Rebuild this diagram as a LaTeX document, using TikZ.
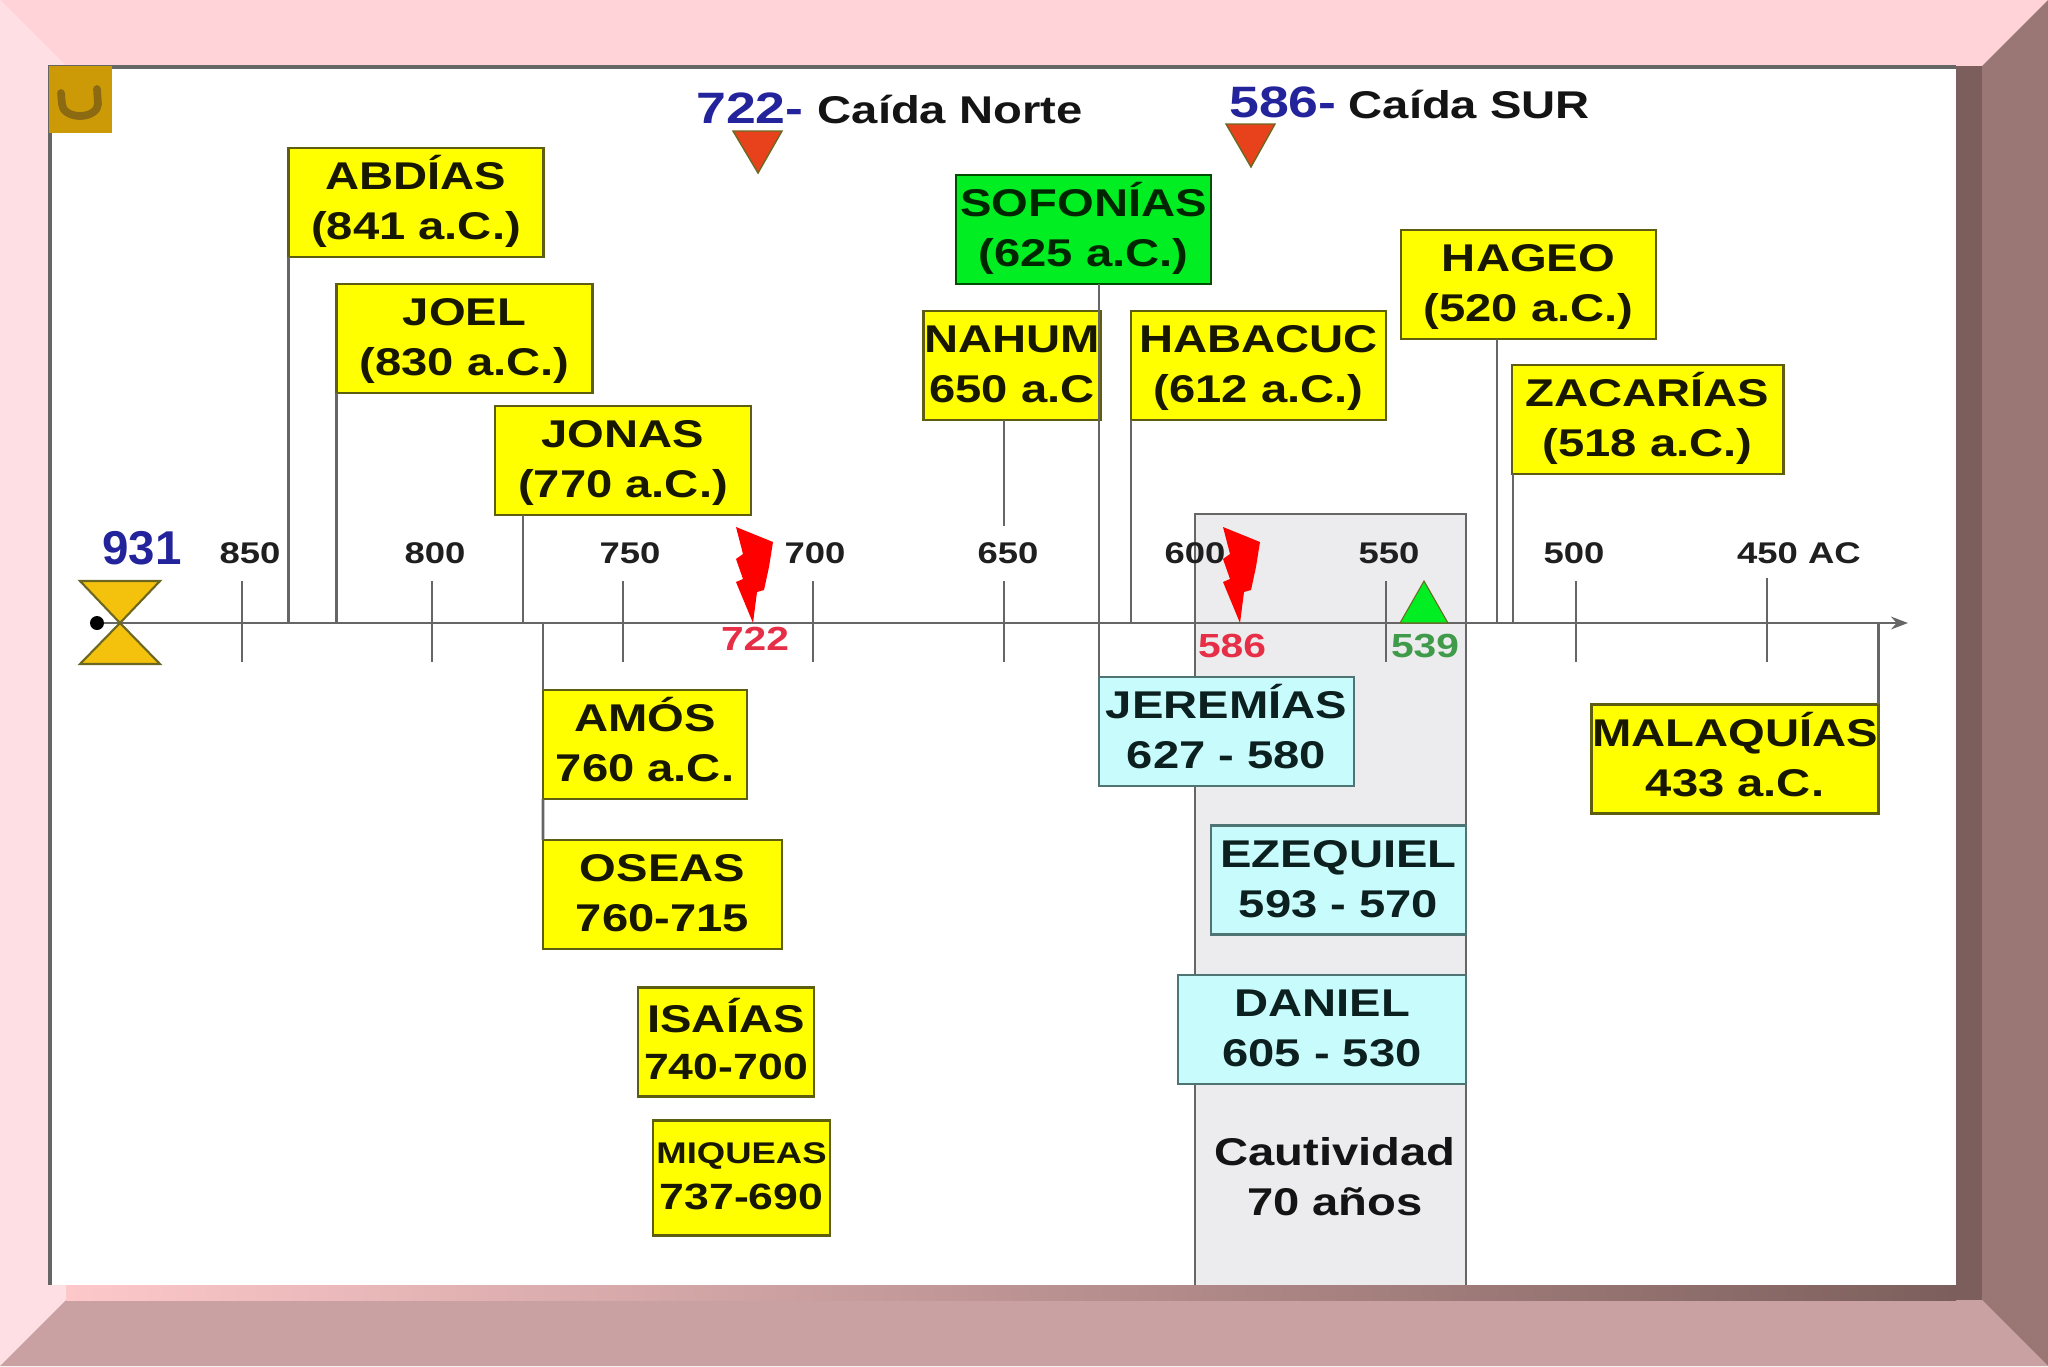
\documentclass[tikz,border=0pt]{standalone}
\usepackage{fontspec}
\setmainfont[FakeStretch=1.22]{Liberation Sans}
\newfontfamily\plainfont{Liberation Sans}
\usepackage{xcolor}
\usepackage{tikz}
\usetikzlibrary{arrows.meta, calc}

\definecolor{topbevel}{HTML}{FFD3D8}
\definecolor{leftbevel}{HTML}{FEDFE3}
\definecolor{bottombevel}{HTML}{C9A1A2}
\definecolor{rightbevel}{HTML}{9A7775}
\definecolor{shadowband}{HTML}{7C5F5C}
\definecolor{shadowpink}{HTML}{FDC8CA}
\definecolor{linegray}{HTML}{666666}
\definecolor{yellowbox}{HTML}{FFFF00}
\definecolor{boxedge}{HTML}{5E5E10}
\definecolor{boxtext}{HTML}{181800}
\definecolor{greenfill}{HTML}{00EE22}
\definecolor{aquabox}{HTML}{C8FCFC}
\definecolor{aquaedge}{HTML}{4F7474}
\definecolor{aquatext}{HTML}{0C2020}
\definecolor{exilegray}{HTML}{ECEBED}
\definecolor{datered}{HTML}{E62E46}
\definecolor{dategreen}{HTML}{3F9A4A}
\definecolor{dateblue}{HTML}{23239B}
\definecolor{fallred}{HTML}{E8421C}
\definecolor{logofill}{HTML}{CC9A06}
\definecolor{logomark}{HTML}{8C6A12}
\definecolor{glassfill}{HTML}{F4C20D}

\tikzset{
    bolt/.pic={
        \fill[red] (0,0) -- (-17,-41) -- (-10,-44) -- (-17,-64) -- (-10,-69) -- (-17,-96)
            -- (20,-81) -- (16,-56) -- (11,-33) -- (4,-31) -- cycle;
    }
}

\begin{document}
\begin{tikzpicture}[x=0.01cm, y=-0.01cm,
    yearbox/.style={draw=boxedge, line width=0.8pt, fill=yellowbox, align=center, inner sep=0pt, outer sep=0pt,
        minimum height=1.09cm, text=boxtext, font=\fontsize{11}{14.2}\selectfont\bfseries,
        execute at begin node=\rule{0pt}{25.2pt}, execute at end node={\rule[-4pt]{0pt}{0pt}}},
    greenbox/.style={yearbox, fill=greenfill, draw=green!30!black, text=green!15!black},
    aquaboxed/.style={yearbox, fill=aquabox, draw=aquaedge, line width=0.7pt, text=aquatext},
    stem/.style={draw=linegray, line width=0.8pt},
    ticklabel/.style={inner sep=0pt, font=\fontsize{8.5}{10}\selectfont\bfseries, text=black!88},
    datelabel/.style={inner sep=0pt, font=\fontsize{9.5}{11}\selectfont\bfseries},
    bigyear/.style={inner sep=0pt, text=dateblue, font=\plainfont\fontsize{13.5}{15}\selectfont\bfseries},
    headyear/.style={inner sep=0pt, text=dateblue, font=\fontsize{12.5}{15}\selectfont\bfseries},
    falllabel/.style={inner sep=0pt, anchor=west, text=black!92, font=\fontsize{11}{13}\selectfont\bfseries},
    falltri/.style={fill=fallred, draw=olive!70!black, line width=0.4pt}]
    \useasboundingbox (0,0) rectangle (2048,1366);

    % Draw frame
    \fill[topbevel] (0,0) -- (2048,0) -- (1982,66) -- (66,66) -- cycle;
    \fill[leftbevel] (0,0) -- (66,66) -- (66,1300) -- (0,1366) -- cycle;
    \fill[bottombevel] (0,1366) -- (66,1300) -- (1982,1300) -- (2048,1366) -- cycle;
    \fill[rightbevel] (2048,0) -- (1982,66) -- (1982,1300) -- (2048,1366) -- cycle;
    \fill[shadowband] (1956,66) rectangle (1982,1300);
    \shade[left color=shadowpink, right color=shadowband] (66,1285) rectangle (1956,1300);
    \fill[white] (49,66) rectangle (1956,1285);
    \draw[linegray, line width=0.9pt] (50,1285) -- (50,67) -- (1956,67);

    % Draw logo
    \fill[logofill] (49,66) rectangle (112,133);
    \draw[logomark, line width=2.2pt, line cap=round] (61,93) -- (62,104) arc[start angle=180, end angle=360, x radius=18, y radius=-12] -- (97,89);

    % Draw exile block
    \fill[exilegray] (1195,514) rectangle (1466,1285);
    \draw[stem] (1195,1285) -- (1195,514) -- (1466,514) -- (1466,1285);

    % Draw timeline
    \coordinate (axisstart) at (97,623);
    \coordinate (axisend) at (1908,623);
    \foreach \x/\lab/\lx in {242/850/250, 432/800/435, 623/750/630, 813/700/815, 1004/650/1008, 1195/600/1195, 1386/550/1389, 1576/500/1574} {
        \coordinate (tick\lab a) at (\x,581);
        \coordinate (tick\lab b) at (\x,662);
        \draw[stem] (tick\lab a) -- (tick\lab b);
        \node[ticklabel] (year\lab) at (\lx,553) {\lab};
    }
    \coordinate (tick450a) at (1767,578);
    \coordinate (tick450b) at (1767,662);
    \draw[stem] (tick450a) -- (tick450b);
    \node[ticklabel] (year450) at (1799,553) {450 AC};
    \draw[stem, -{Stealth[length=4.8pt, width=3.6pt]}] (axisstart) -- (axisend);

    % Draw start marker
    \fill[glassfill, draw=olive!70!black, line width=0.6pt] (80,581) -- (160,581) -- (120,623) -- cycle;
    \fill[glassfill, draw=olive!70!black, line width=0.6pt] (80,664) -- (160,664) -- (120,623) -- cycle;
    \fill[black] (axisstart) circle (7);
    \node[bigyear] (start) at (142,548) {931};

    % Draw prophets above the line
    \node[yearbox, minimum width=2.55cm] (abdias) at (416,202.5) {ABDÍAS\\(841 a.C.)};
    \node[yearbox, minimum width=2.56cm] (joel) at (464.5,338.5) {JOEL\\(830 a.C.)};
    \node[yearbox, minimum width=2.56cm] (jonas) at (623,460.5) {JONAS\\(770 a.C.)};
    \node[greenbox, minimum width=2.55cm] (sofonias) at (1083.5,229.5) {SOFONÍAS\\(625 a.C.)};
    \node[yearbox, minimum width=1.77cm] (nahum) at (1012,365.5) {NAHUM\\650 a.C};
    \node[yearbox, minimum width=2.55cm] (habacuc) at (1258.5,365.5) {HABACUC\\(612 a.C.)};
    \node[yearbox, minimum width=2.55cm] (hageo) at (1528.5,284.5) {HAGEO\\(520 a.C.)};
    \node[yearbox, minimum width=2.71cm] (zacarias) at (1647.5,419.5) {ZACARÍAS\\(518 a.C.)};

    % Draw prophets below the line
    \node[yearbox, minimum width=2.04cm] (amos) at (645,744.5) {AMÓS\\760 a.C.};
    \node[yearbox, minimum width=2.39cm] (oseas) at (662.5,894.5) {OSEAS\\760-715};
    \node[yearbox, minimum width=1.76cm] (isaias) at (726,1042) {ISAÍAS\\[-0.8pt]{\fontsize{10.4}{14}\selectfont 740-700}};
    \node[yearbox, minimum width=1.77cm, execute at end node={\rule[-7.4pt]{0pt}{0pt}}] (miqueas) at (741.5,1178) {{\fontsize{8.5}{14}\selectfont MIQUEAS}\\[-1.2pt]{\fontsize{10.4}{14}\selectfont 737-690}};
    \node[yearbox, minimum width=2.87cm] (malaquias) at (1735,759) {MALAQUÍAS\\433 a.C.};
    \node[aquaboxed, minimum width=2.55cm] (jeremias) at (1226.5,731.5) {JEREMÍAS\\627 - 580};
    \node[aquaboxed, minimum width=2.55cm] (ezequiel) at (1338.5,880) {EZEQUIEL\\593 - 570};
    \node[aquaboxed, minimum width=2.88cm] (daniel) at (1322,1029.5) {DANIEL\\605 - 530};
    \node[inner sep=0pt, align=center, text=black!92, font=\fontsize{11}{14.2}\selectfont\bfseries] (exile) at (1335,1177) {Cautividad\\70 años};

    % Draw connectors
    \draw[stem] (abdias.south west) -- (abdias.south west |- axisstart);
    \draw[stem] (joel.south west) -- (joel.south west |- axisstart);
    \coordinate (jonasfoot) at (523,623);
    \draw[stem] (jonasfoot |- jonas.south) -- (jonasfoot);
    \coordinate (nahumfoot) at (1004,526);
    \draw[stem] (nahumfoot |- nahum.south) -- (nahumfoot);
    \draw[stem] (sofonias.south -| jeremias.north west) -- (jeremias.north west);
    \draw[stem] (habacuc.south west) -- (habacuc.south west |- axisstart);
    \coordinate (hageofoot) at (1497,623);
    \draw[stem] (hageofoot |- hageo.south) -- (hageofoot);
    \coordinate (zacariasfoot) at (1513,623);
    \draw[stem] (zacariasfoot |- zacarias.south) -- (zacariasfoot);
    \draw[stem] (amos.north west |- axisstart) -- (amos.north west);
    \draw[stem] (amos.south west) -- (oseas.north west);
    \draw[stem] (malaquias.north east |- axisstart) -- (malaquias.north east);

    % Draw events on the line
    \pic at (753,623) {bolt};
    \pic at (1240,623) {bolt};
    \node[datelabel, text=datered] (fall722) at (755,639) {722};
    \node[datelabel, text=datered] (fall586) at (1232,646) {586};
    \fill[greenfill, draw=olive!70!black, line width=0.3pt] (1424,581) -- (1448,623) -- (1400,623) -- cycle;
    \node[datelabel, text=dategreen] (return539) at (1425,646) {539};

    % Draw headings
    \node[headyear] (north) at (750,108) {722-};
    \node[falllabel] (northtext) at (817,109) {Caída Norte};
    \fill[falltri] (733,131) -- (782,131) -- (758,173) -- cycle;
    \node[headyear] (south) at (1283,102) {586-};
    \node[falllabel] (southtext) at (1348,104) {Caída SUR};
    \fill[falltri] (1226,124) -- (1275,124) -- (1251,167) -- cycle;
\end{tikzpicture}
\end{document}
